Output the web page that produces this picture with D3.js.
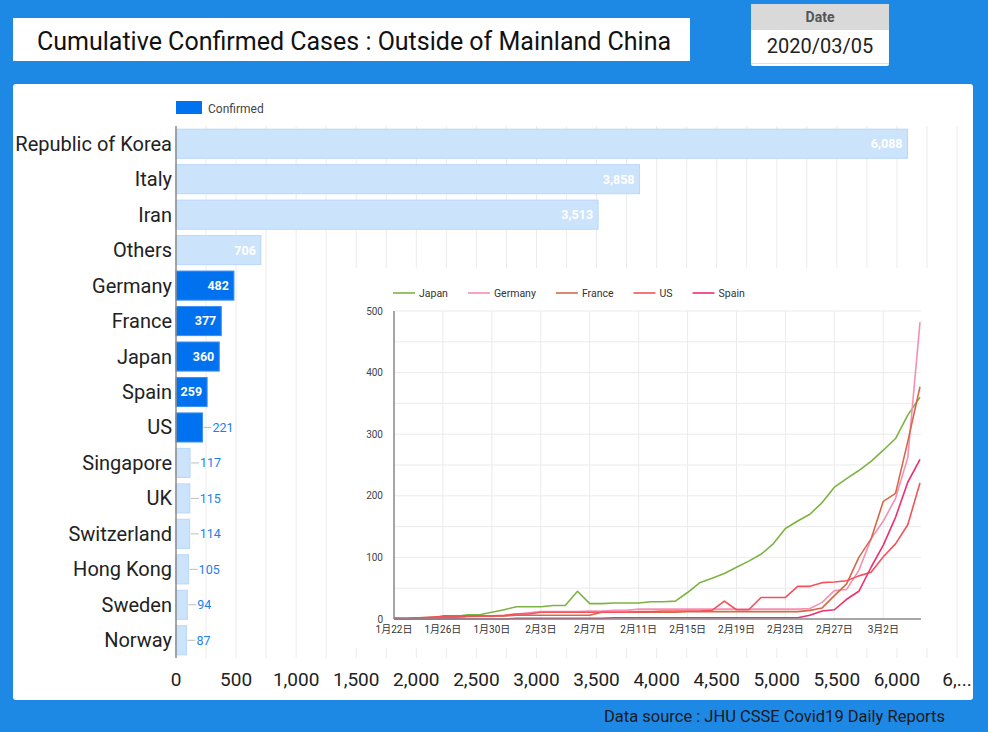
<!DOCTYPE html>
<html>
<head>
<meta charset="utf-8">
<script src="https://cdn.jsdelivr.net/npm/d3@7/dist/d3.min.js"></script>
<style>
  html, body { margin: 0; padding: 0; background: #1e88e5; }
  svg { display: block; font-family: Roboto, "Noto Sans CJK JP", sans-serif; }
</style>
</head>
<body>
<svg id="chart" width="988" height="732"></svg>
<script>
// ---------------- data ----------------
const titleText = "Cumulative Confirmed Cases : Outside of Mainland China";
const dateLabel = "Date";
const dateValue = "2020/03/05";
const sourceText = "Data source : JHU CSSE Covid19 Daily Reports";

const categories = ["Republic of Korea","Italy","Iran","Others","Germany","France","Japan","Spain","US","Singapore","UK","Switzerland","Hong Kong","Sweden","Norway"];
const confirmed = [6088,3858,3513,706,482,377,360,259,221,117,115,114,105,94,87];
const highlighted = ["Germany","France","Japan","Spain","US"];
const barTicks = [0,500,1000,1500,2000,2500,3000,3500,4000,4500,5000,5500,6000,6500];
const barTickLabels = ["0","500","1,000","1,500","2,000","2,500","3,000","3,500","4,000","4,500","5,000","5,500","6,000","6,..."];

const dates = ["2020-01-22","2020-01-23","2020-01-24","2020-01-25","2020-01-26","2020-01-27","2020-01-28","2020-01-29","2020-01-30","2020-01-31",
  "2020-02-01","2020-02-02","2020-02-03","2020-02-04","2020-02-05","2020-02-06","2020-02-07","2020-02-08","2020-02-09","2020-02-10",
  "2020-02-11","2020-02-12","2020-02-13","2020-02-14","2020-02-15","2020-02-16","2020-02-17","2020-02-18","2020-02-19","2020-02-20",
  "2020-02-21","2020-02-22","2020-02-23","2020-02-24","2020-02-25","2020-02-26","2020-02-27","2020-02-28","2020-02-29","2020-03-01",
  "2020-03-02","2020-03-03","2020-03-04","2020-03-05"];
const seriesNames = ["Japan","Germany","France","US","Spain"];
const japan   = [2,1,2,2,4,4,7,7,11,15, 20,20,20,22,22,45,25,25,26,26, 26,28,28,29,43,59,66,74,84,94, 105,122,147,159,170,189,214,228,241,256, 274,293,331,360];
const germany = [0,0,0,0,0,1,4,4,4,5, 8,10,12,12,12,12,13,13,14,14, 16,16,16,16,16,16,16,16,16,16, 16,16,16,16,17,27,46,48,79,130, 159,196,262,482];
const france  = [0,0,2,3,3,3,4,5,5,5, 6,6,6,6,6,6,6,11,11,11, 11,11,11,11,12,12,12,12,12,12, 12,12,12,12,14,18,38,57,100,130, 191,204,288,377];
const us      = [1,1,2,2,5,5,5,5,5,6, 8,8,11,11,11,11,11,11,11,11, 12,12,13,13,13,13,14,29,15,15, 35,35,35,53,53,59,60,62,70,76, 101,122,153,221];
const spain   = [0,0,0,0,0,0,0,0,0,0, 1,1,1,1,1,1,1,1,2,2, 2,2,2,2,2,2,2,2,2,2, 2,2,2,2,6,13,15,32,45,84, 120,165,222,259];
const seriesColors = ["#7cb342","#f78fb3","#d4694a","#f4515a","#ec2f72"];
const lineTickDates = ["2020-01-22","2020-01-26","2020-01-30","2020-02-03","2020-02-07","2020-02-11","2020-02-15","2020-02-19","2020-02-23","2020-02-27","2020-03-02"];
const lineYTicks = [0,100,200,300,400,500];
const lineYGrid = [50,100,150,200,250,300,350,400,450,500];

// ---------------- drawing ----------------
const svg = d3.select("#chart");
const blue = "#0072f0";

// header title box
svg.append("rect").attr("x",13).attr("y",18).attr("width",677).attr("height",43).attr("fill","#fff");
svg.append("text").attr("x",37).attr("y",50).attr("font-size",25).attr("fill","#111").text(titleText);

// date box
const db = svg.append("g");
db.append("rect").attr("x",751).attr("y",4).attr("width",138).attr("height",62).attr("rx",2).attr("fill","#fff");
db.append("rect").attr("x",751).attr("y",4).attr("width",138).attr("height",26).attr("fill","#d9d9d9");
db.append("line").attr("x1",751).attr("x2",889).attr("y1",63.5).attr("y2",63.5).attr("stroke","#e0e0e0");
db.append("text").attr("x",820).attr("y",22).attr("text-anchor","middle").attr("font-size",14).attr("font-weight","bold").attr("fill","#555").text(dateLabel);
db.append("text").attr("x",820).attr("y",53).attr("text-anchor","middle").attr("font-size",20).attr("fill","#222").text(dateValue);

// card
svg.append("rect").attr("x",13).attr("y",84).attr("width",960).attr("height",616).attr("rx",3).attr("fill","#fff");

// source
svg.append("text").attr("x",945).attr("y",722).attr("text-anchor","end").attr("font-size",16.5).attr("fill","#1a1a1a").text(sourceText);

// ---- bar chart ----
const x = d3.scaleLinear().domain([0,6500]).range([176,957]);
const y = d3.scaleBand().domain(categories).range([126,658]).paddingInner(0.18).paddingOuter(0.09);
const barData = categories.map((c,i)=>({c, v: confirmed[i], hi: highlighted.includes(c)}));

// gridlines every 250
const gridVals = d3.range(250, 6501, 250);
svg.append("g").selectAll("line").data(gridVals).join("line")
  .attr("x1",d=>x(d)).attr("x2",d=>x(d)).attr("y1",126).attr("y2",658)
  .attr("stroke","#ececec").attr("stroke-width",1);

// legend
svg.append("rect").attr("x",176).attr("y",101).attr("width",26).attr("height",13).attr("fill",blue);
svg.append("text").attr("x",208).attr("y",112.5).attr("font-size",12).attr("fill","#444").text("Confirmed");

// bars
svg.append("g").selectAll("rect").data(barData).join("rect")
  .attr("x",x(0)).attr("y",d=>y(d.c)).attr("width",d=>x(d.v)-x(0)).attr("height",y.bandwidth())
  .attr("fill",d=>d.hi?blue:"#cce3fc").attr("stroke",d=>d.hi?"#3d8ff3":"#b8d7fb").attr("stroke-width",1);

// labels
const fmt = d3.format(",");
const lab = svg.append("g");
barData.forEach(d=>{
  const w = x(d.v)-x(0);
  const cy = y(d.c)+y.bandwidth()/2;
  if (w >= 30) {
    lab.append("text").attr("x",x(d.v)-5).attr("y",cy).attr("dy","0.35em").attr("text-anchor","end")
      .attr("font-size",12.5).attr("font-weight","bold").attr("fill","#fff").text(fmt(d.v));
  } else {
    lab.append("line").attr("x1",x(d.v)+1).attr("x2",x(d.v)+9).attr("y1",cy).attr("y2",cy).attr("stroke","#bdbdbd").attr("stroke-width",1);
    lab.append("text").attr("x",x(d.v)+10).attr("y",cy).attr("dy","0.35em")
      .attr("font-size",12.5).attr("fill","#1a7ff0").text(fmt(d.v));
  }
});

// category labels
svg.append("g").selectAll("text").data(categories).join("text")
  .attr("x",172).attr("y",d=>y(d)+y.bandwidth()/2).attr("dy","0.35em").attr("text-anchor","end")
  .attr("font-size",20).attr("fill","#222").text(d=>d);

// y axis line
svg.append("line").attr("x1",176).attr("x2",176).attr("y1",126).attr("y2",658).attr("stroke","#8a8a8a").attr("stroke-width",1.5);

// x tick labels
svg.append("g").selectAll("text").data(barTicks).join("text")
  .attr("x",d=>x(d)).attr("y",686).attr("text-anchor","middle").attr("font-size",19).attr("fill","#222")
  .text((d,i)=>barTickLabels[i]);

// ---- inset line chart ----
const parse = d3.timeParse("%Y-%m-%d");
const dts = dates.map(parse);
const lx = d3.scaleTime().domain([dts[0], dts[dts.length-1]]).range([394,920]);
const ly = d3.scaleLinear().domain([0,500]).range([619,311]);
const inset = svg.append("g");
inset.append("rect").attr("x",340).attr("y",268).attr("width",600).attr("height",380).attr("fill","#fff");

// gridlines
inset.append("g").selectAll("line").data(lineYGrid).join("line")
  .attr("x1",394).attr("x2",921).attr("y1",d=>ly(d)).attr("y2",d=>ly(d)).attr("stroke","#ebebeb");
inset.append("g").selectAll("line").data(lineTickDates.slice(1)).join("line")
  .attr("x1",d=>lx(parse(d))).attr("x2",d=>lx(parse(d))).attr("y1",311).attr("y2",619).attr("stroke","#ebebeb");

// y labels
inset.append("g").selectAll("text").data(lineYTicks).join("text")
  .attr("x",383).attr("y",d=>ly(d)).attr("dy","0.35em").attr("text-anchor","end")
  .attr("font-size",10).attr("fill","#444").text(d=>d);

// x labels
const jfmt = d3.timeFormat("%-m月%-d日");
inset.append("g").selectAll("text").data(lineTickDates).join("text")
  .attr("x",d=>lx(parse(d))).attr("y",633).attr("text-anchor","middle")
  .attr("font-size",10).attr("fill","#333").text(d=>jfmt(parse(d)));

// lines
const allSeries = [japan, germany, france, us, spain];
const line = d3.line().x((d,i)=>lx(dts[i])).y(d=>ly(d));
allSeries.forEach((s,k)=>{
  inset.append("path").attr("d",line(s)).attr("fill","none").attr("stroke",seriesColors[k]).attr("stroke-width",1.6).attr("stroke-linejoin","round");
});

// axes lines
inset.append("line").attr("x1",394).attr("x2",921).attr("y1",619).attr("y2",619).attr("stroke","#888").attr("stroke-width",1.5);
inset.append("line").attr("x1",394).attr("x2",394).attr("y1",311).attr("y2",619).attr("stroke","#888").attr("stroke-width",1.5);

// legend
let lxPos = 393;
const lg = inset.append("g");
seriesNames.forEach((n,k)=>{
  lg.append("line").attr("x1",lxPos).attr("x2",lxPos+22).attr("y1",293).attr("y2",293).attr("stroke",seriesColors[k]).attr("stroke-width",1.6);
  const t = lg.append("text").attr("x",lxPos+26).attr("y",293).attr("dy","0.35em").attr("font-size",10.5).attr("fill","#333").text(n);
  const w = t.node().getComputedTextLength();
  lxPos = lxPos + 26 + w + 20;
});
</script>
</body>
</html>
